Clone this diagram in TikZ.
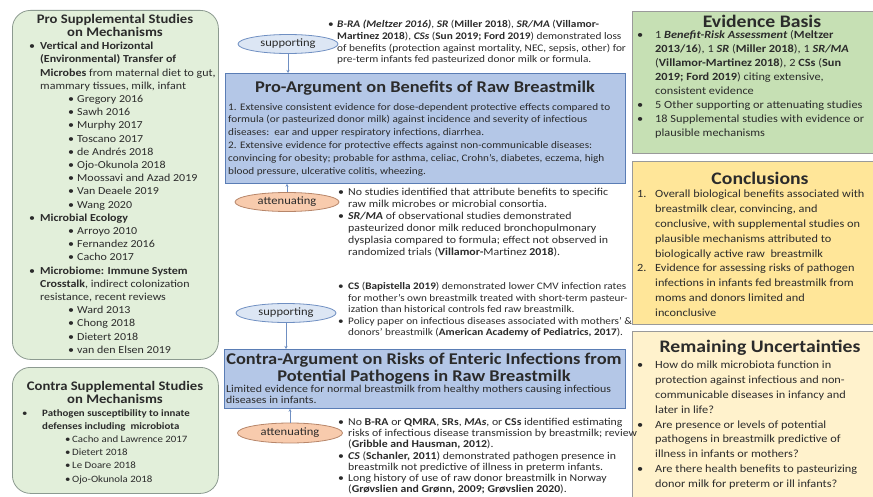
\documentclass[tikz,border=0pt]{standalone}
\usepackage{fontspec}
\setmainfont[FakeStretch=1.12]{Carlito}
\usetikzlibrary{arrows.meta,shapes.geometric}
\definecolor{txt}{HTML}{2B2B2B}
\definecolor{bluefill}{HTML}{B4C7E7}
\definecolor{blueline}{HTML}{5A7DB5}
\definecolor{supfill}{HTML}{DCE6F4}
\definecolor{supline}{HTML}{6F8FC2}
\definecolor{attfill}{HTML}{F8CBAD}
\definecolor{attline}{HTML}{B7866A}
\definecolor{lgreen}{HTML}{E2EFDA}
\definecolor{lgline}{HTML}{8C9A90}
\definecolor{evfill}{HTML}{C6E0B4}
\definecolor{cofill}{HTML}{FFE699}
\definecolor{rufill}{HTML}{FFF2CC}
\definecolor{boxline}{HTML}{9A9A9A}
\newcommand\BU[1]{\makebox[#1][l]{\textbullet}}
\newcommand\IN[1]{\makebox[#1][l]{}}
\newcommand\NU[2]{\makebox[#1][l]{#2}}
\begin{document}
\begin{tikzpicture}[x=1pt,y=-1pt,
  every node/.style={inner sep=0pt,text=txt},
  block/.style={anchor=north west,align=left},
  lbox/.style={draw=lgline,fill=lgreen,line width=0.8pt,rounded corners=18pt,anchor=north west},
  rbox/.style={draw=boxline,line width=0.6pt,anchor=north west},
  argbox/.style={draw=blueline,fill=bluefill,line width=0.8pt,anchor=north west},
  supell/.style={ellipse,draw=supline,fill=supfill,line width=0.8pt,minimum width=100pt,minimum height=19pt,font=\fontsize{11.2}{12}\selectfont},
  attell/.style={ellipse,draw=attline,fill=attfill,line width=0.8pt,minimum width=104pt,minimum height=19pt,font=\fontsize{11.2}{12}\selectfont},
  conn/.style={draw=supline,line width=0.7pt,-{Stealth[length=3pt,width=3pt]}},
  ttl/.style={font=\fontsize{13.1}{13}\selectfont\bfseries,align=center,anchor=north},
  rttl/.style={font=\fontsize{17.6}{17}\selectfont\bfseries,anchor=center},
]
\useasboundingbox (0,0) rectangle (873,497);
\clip (0,0) rectangle (873,497);
\fill[white] (0,0) rectangle (873,497);

% ---------- left boxes ----------
\node[lbox,minimum width=206pt,minimum height=349pt] (lpro) at (12,10) {};
\node[ttl] (lprot) at (115,14) {Pro Supplemental Studies\\on Mechanisms};
\node[block,font=\fontsize{10.7}{13.2}\selectfont] (lprob) at (29,42) {%
\BU{11pt}\textbf{Vertical and Horizontal}\\
\IN{11pt}\textbf{(Environmental) Transfer of}\\
\IN{11pt}\textbf{Microbes} from maternal diet to gut,\\
\IN{11pt}mammary tissues, milk, infant\\
\IN{39pt}\BU{9pt}Gregory 2016\\
\IN{39pt}\BU{9pt}Sawh 2016\\
\IN{39pt}\BU{9pt}Murphy 2017\\
\IN{39pt}\BU{9pt}Toscano 2017\\
\IN{39pt}\BU{9pt}de Andrés 2018\\
\IN{39pt}\BU{9pt}Ojo-Okunola 2018\\
\IN{39pt}\BU{9pt}Moossavi and Azad 2019\\
\IN{39pt}\BU{9pt}Van Deaele\ 2019\\
\IN{39pt}\BU{9pt}Wang 2020\\
\BU{11pt}\textbf{Microbial Ecology}\\
\IN{39pt}\BU{9pt}Arroyo 2010\\
\IN{39pt}\BU{9pt}Fernandez 2016\\
\IN{39pt}\BU{9pt}Cacho 2017\\
\BU{11pt}\textbf{Microbiome: Immune System}\\
\IN{11pt}\textbf{Crosstalk}, indirect colonization\\
\IN{11pt}resistance, recent reviews\\
\IN{39pt}\BU{9pt}Ward 2013\\
\IN{39pt}\BU{9pt}Chong 2018\\
\IN{39pt}\BU{9pt}Dietert 2018\\
\IN{39pt}\BU{9pt}van den Elsen 2019};

\node[lbox,minimum width=206pt,minimum height=126pt] (lcon) at (12,367) {};
\node[ttl] (lcont) at (115,381) {Contra Supplemental Studies\\on Mechanisms};
\node[block,font=\fontsize{9.7}{13.2}\selectfont] (lconb) at (22,409) {%
\BU{20pt}\textbf{Pathogen susceptibility to innate}\\
\IN{20pt}\textbf{defenses including\ \ microbiota}\\
\IN{43pt}\BU{7pt}Cacho and Lawrence 2017\\
\IN{43pt}\BU{7pt}Dietert 2018\\
\IN{43pt}\BU{7pt}Le Doare 2018\\
\IN{43pt}\BU{7pt}Ojo-Okunola 2018};

% ---------- right boxes ----------
\node[rbox,fill=evfill,minimum width=250pt,minimum height=142pt] (ev) at (632,11) {};
\node[rttl] (evt) at (762,21) {Evidence Basis};
\node[block,font=\fontsize{11}{14}\selectfont] (evb) at (637,30) {%
\BU{18pt}1 \textbf{\textit{Benefit-Risk Assessment}} (\textbf{Meltzer}\\
\IN{18pt}\textbf{2013/16}), 1 \textbf{\textit{SR}} (\textbf{Miller 2018}), 1 \textbf{\textit{SR/MA}}\\
\IN{18pt}(\textbf{Villamor-Martinez 2018}), 2 \textbf{CSs} (\textbf{Sun}\\
\IN{18pt}\textbf{2019; Ford 2019}) citing extensive,\\
\IN{18pt}consistent evidence\\
\BU{18pt}5 Other supporting or attenuating studies\\
\BU{18pt}18 Supplemental studies with evidence or\\
\IN{18pt}plausible mechanisms};

\node[rbox,fill=cofill,minimum width=250pt,minimum height=163pt] (co) at (632,161) {};
\node[rttl] (cot) at (760,178) {Conclusions};
\node[block,font=\fontsize{11}{14.8}\selectfont] (cob) at (637,190) {%
\NU{18pt}{1.}Overall biological benefits associated with\\
\IN{18pt}breastmilk clear, convincing, and\\
\IN{18pt}conclusive, with supplemental studies on\\
\IN{18pt}plausible mechanisms attributed to\\
\IN{18pt}biologically active raw\ \ breastmilk\\
\NU{18pt}{2.}Evidence for assessing risks of pathogen\\
\IN{18pt}infections in infants fed breastmilk from\\
\IN{18pt}moms and donors limited and\\
\IN{18pt}inconclusive};

\node[rbox,fill=rufill,minimum width=250pt,minimum height=180pt] (ru) at (632,331) {};
\node[rttl] (rut) at (760,348) {Remaining Uncertainties};
\node[block,font=\fontsize{11}{14.8}\selectfont] (rub) at (637,361) {%
\BU{18pt}How do milk microbiota function in\\
\IN{18pt}protection against infectious and non-\\
\IN{18pt}communicable diseases in infancy and\\
\IN{18pt}later in life?\\
\BU{18pt}Are presence or levels of potential\\
\IN{18pt}pathogens in breastmilk predictive of\\
\IN{18pt}illness in infants or mothers?\\
\BU{18pt}Are there health benefits to pasteurizing\\
\IN{18pt}donor milk for preterm or ill infants?};

% ---------- pro argument ----------
\node[block,font=\fontsize{10.1}{11.7}\selectfont] (topt) at (328,20) {%
\BU{9pt}\textbf{\textit{B-RA (Meltzer 2016)}}, \textbf{\textit{SR}} (\textbf{Miller 2018}), \textbf{\textit{SR/MA}} (\textbf{Villamor-}\\
\IN{9pt}\textbf{Martinez 2018}), \textbf{\textit{CSs}} (\textbf{Sun 2019; Ford 2019}) demonstrated loss\\
\IN{9pt}of benefits (protection against mortality, NEC, sepsis, other) for\\
\IN{9pt}pre-term infants fed pasteurized donor milk or formula.};
\node[supell] (sup1) at (288,44) {supporting};

\node[argbox,minimum width=400pt,minimum height=110pt] (pro) at (225,73) {};
\node[font=\fontsize{16.4}{17}\selectfont\bfseries,anchor=center] (prot) at (425,88) {Pro-Argument on Benefits of Raw Breastmilk};
\node[block,font=\fontsize{10}{12.8}\selectfont] (prob) at (228,103) {%
1. Extensive consistent evidence for dose-dependent protective effects compared to\\
formula (or pasteurized donor milk) against incidence and severity of infectious\\
diseases:\ \ ear and upper respiratory infections, diarrhea.\\
2. Extensive evidence for protective effects against non-communicable diseases:\\
convincing for obesity; probable for asthma, celiac, Crohn's, diabetes, eczema, high\\
blood pressure, ulcerative colitis, wheezing.};

\node[attell] (att1) at (287,202) {attenuating};
\node[block,font=\fontsize{10.6}{12}\selectfont] (attt) at (338,188) {%
\BU{10pt}No studies identified that attribute benefits to specific\\
\IN{10pt}raw milk microbes or microbial consortia.\\
\BU{10pt}\textbf{\textit{SR/MA}} of observational studies demonstrated\\
\IN{10pt}pasteurized donor milk reduced bronchopulmonary\\
\IN{10pt}dysplasia compared to formula; effect not observed in\\
\IN{10pt}randomized trials (\textbf{Villamor-}Martinez \textbf{2018}).};

% ---------- contra argument ----------
\node[block,font=\fontsize{10}{11.6}\selectfont] (cst) at (338,282) {%
\BU{10pt}\textbf{CS} (\textbf{Bapistella 2019}) demonstrated lower CMV infection rates\\
\IN{10pt}for mother's own breastmilk treated with short-term pasteur-\\
\IN{10pt}ization than historical controls fed raw breastmilk.\\
\BU{10pt}Policy paper on infectious diseases associated with mothers' \&\\
\IN{10pt}donors' breastmilk (\textbf{American Academy of Pediatrics, 2017}).};
\node[supell] (sup2) at (286,313) {supporting};

\node[argbox,minimum width=401pt,minimum height=59pt] (con) at (224,349) {};
\node[font=\fontsize{16.4}{17}\selectfont\bfseries,align=center,anchor=north] (cont) at (424,353) {Contra-Argument on Risks of Enteric Infections from\\Potential Pathogens in Raw Breastmilk};
\node[block,font=\fontsize{10.6}{11}\selectfont] (conb) at (226,385) {%
Limited evidence for normal breastmilk from healthy mothers causing infectious\\
diseases in infants.};

\node[attell,minimum width=105pt,minimum height=20pt] (att2) at (290,433) {attenuating};
\node[block,font=\fontsize{10.5}{11.2}\selectfont] (att2t) at (338,418) {%
\BU{10pt}No \textbf{B-RA} or \textbf{QMRA}, \textbf{SRs}, \textbf{\textit{MAs}}, or \textbf{CSs} identified estimating\\
\IN{10pt}risks of infectious disease transmission by breastmilk; review\\
\IN{10pt}(\textbf{Gribble and Hausman, 2012}).\\
\BU{10pt}\textbf{\textit{CS}} (\textbf{Schanler, 2011}) demonstrated pathogen presence in\\
\IN{10pt}breastmilk not predictive of illness in preterm infants.\\
\BU{10pt}Long history of use of raw donor breastmilk in Norway\\
\IN{10pt}(\textbf{Grøvslien and Grønn, 2009; Grøvslien 2020}).};

% ---------- connectors ----------
\draw[conn] (sup1.south) -- (sup1.south |- pro.north);
\draw[conn] (att1.north) -- (att1.north |- pro.south);
\draw[conn] (sup2.south) -- (sup2.south |- con.north);
\draw[conn] (att2.north) -- (att2.north |- con.south);
\end{tikzpicture}
\end{document}
